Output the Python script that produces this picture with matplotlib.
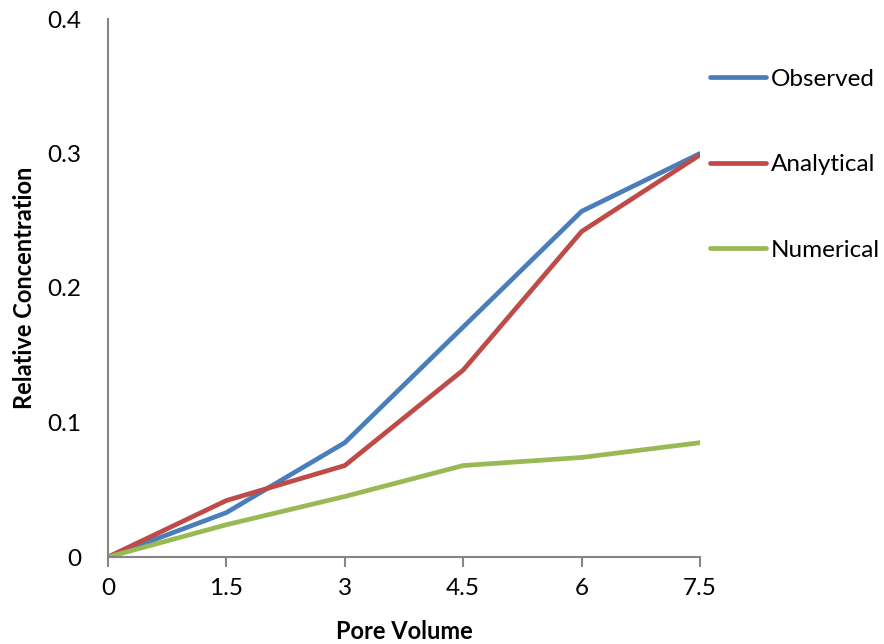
import matplotlib.pyplot as plt
import numpy as np

plt.rcParams['font.family'] = ['Lato', 'DejaVu Sans']

# Concentration breakthrough data
pore_volume = [0, 1.5, 3, 4.5, 6, 7.5]
observed = [0.0, 0.033, 0.085, 0.171, 0.257, 0.300]
analytical = [0.0, 0.042, 0.068, 0.139, 0.242, 0.299]
numerical = [0.0, 0.024, 0.045, 0.068, 0.074, 0.085]

fig = plt.figure(figsize=(8.84, 6.44), dpi=100)
ax = fig.add_axes([108 / 884, 1 - 557 / 644, 592 / 884, 538 / 644])

lw = 3.4
ax.plot(pore_volume, observed, color='#4a7ebb', lw=lw, label='Observed', solid_capstyle='round')
ax.plot(pore_volume, analytical, color='#be4b48', lw=lw, label='Analytical', solid_capstyle='round')
ax.plot(pore_volume, numerical, color='#98b954', lw=lw, label='Numerical', solid_capstyle='round')

ax.set_xlim(0, 7.5)
ax.set_ylim(0, 0.4)
ax.set_xticks(pore_volume)
ax.set_xticklabels(['0', '1.5', '3', '4.5', '6', '7.5'])
ax.set_yticks([0, 0.1, 0.2, 0.3, 0.4])
ax.set_yticklabels(['0', '0.1', '0.2', '0.3', '0.4'])

for side in ['top', 'right']:
    ax.spines[side].set_visible(False)
for side in ['left', 'bottom']:
    ax.spines[side].set_color('#868686')
    ax.spines[side].set_linewidth(1.5)

ax.tick_params(axis='x', direction='out', length=7, width=1.5, color='#868686',
               labelsize=17.5, pad=8)
ax.tick_params(axis='y', length=0, labelsize=17.5, pad=19)

ax.set_xlabel('Pore Volume', fontsize=17, fontweight='bold', labelpad=15.5)
ax.set_ylabel('Relative Concentration', fontsize=17, fontweight='bold', labelpad=8.5)

ax.legend(loc='upper left', bbox_to_anchor=(1.0, 0.926), frameon=False,
          fontsize=17.5, handlelength=2.3, handletextpad=0.2, labelspacing=2.66,
          borderaxespad=0)

fig.savefig('out.png', dpi=100)
